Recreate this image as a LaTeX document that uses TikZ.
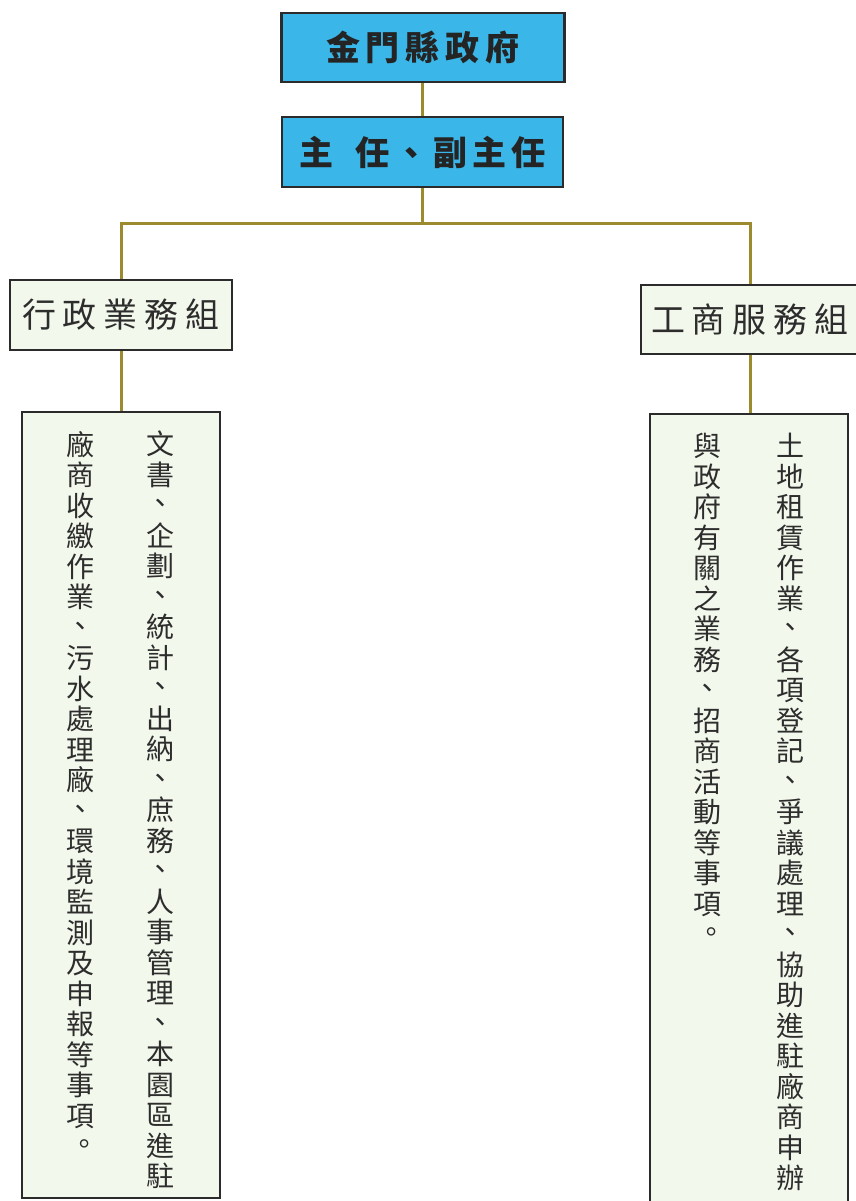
\documentclass[tikz,border=0pt]{standalone}
\usepackage{fontspec}
\newfontfamily\cjk{Noto Sans CJK TC}
\definecolor{topfill}{RGB}{58,182,232}
\definecolor{grpfill}{RGB}{243,248,236}
\definecolor{wire}{RGB}{156,139,46}
\definecolor{edge}{RGB}{43,43,43}
\definecolor{ink}{RGB}{45,45,45}
\newcommand{\vcomma}{\raisebox{2pt}{、}}
\newcommand{\vstop}{\raisebox{2pt}{\hspace*{8pt}。}}
\begin{document}
\begin{tikzpicture}[x=1pt,y=1pt,
  topbox/.style={draw=edge,line width=2.8pt,fill=topfill,inner sep=0pt,
    font=\cjk\bfseries\fontsize{34}{34}\selectfont,text=ink!80!black},
  grpbox/.style={draw=edge,line width=2.8pt,fill=grpfill,inner sep=0pt,
    font=\cjk\fontsize{34}{34}\selectfont,text=ink},
  textbox/.style={draw=edge,line width=2.8pt,fill=grpfill,inner sep=0pt},
  coltext/.style={align=center,inner sep=0pt,anchor=north,
    font=\cjk\fontsize{28}{30.5}\selectfont,text=ink},
  link/.style={draw=wire,line width=3pt}]
\useasboundingbox (0,0) rectangle (855,-1201);
\fill[white] (0,0) rectangle (855,-1201);

% boxes
\node[topbox,minimum width=283pt,minimum height=69pt] (gov) at (423,-47.5)
  {金\hspace{6pt}門\hspace{6pt}縣\hspace{6pt}政\hspace{6pt}府};
\node[topbox,minimum width=281pt,minimum height=70pt] (dir) at (422.5,-152)
  {主\hspace{22pt}任\hspace{5pt}、\hspace{5pt}副\hspace{5pt}主\hspace{5pt}任};
\coordinate (bus) at (422,-223);
\node[grpbox,minimum width=222pt,minimum height=70pt] (adm) at (121,-315)
  {行\hspace{7pt}政\hspace{7pt}業\hspace{7pt}務\hspace{7pt}組};
\node[grpbox,minimum width=218pt,minimum height=69pt] (biz) at (750,-319.5)
  {工\hspace{7pt}商\hspace{7pt}服\hspace{7pt}務\hspace{7pt}組};
\node[textbox,minimum width=198pt,minimum height=786pt] (admtxt) at (121,-805) {};
\node[textbox,minimum width=198pt,minimum height=800pt] (biztxt) at (749,-814) {};

% connectors
\draw[link] (gov.south -| bus) -- (dir.north -| bus);
\draw[link] (dir.south -| bus) -- (bus);
\draw[link] (bus) -| (adm.north);
\draw[link] (bus) -| (biz.north);
\draw[link] (adm.south) -- (admtxt.north -| adm.south);
\draw[link] (biz.south) -- (biztxt.north -| biz.south);

% vertical texts
\node[coltext] (admA) at (160,-431) {文\\書\\\vcomma\\企\\劃\\\vcomma\\統\\計\\\vcomma\\出\\納\\\vcomma\\庶\\務\\\vcomma\\人\\事\\管\\理\\\vcomma\\本\\園\\區\\進\\駐};
\node[coltext] (admB) at (80,-431) {廠\\商\\收\\繳\\作\\業\\\vcomma\\污\\水\\處\\理\\廠\\\vcomma\\環\\境\\監\\測\\及\\申\\報\\等\\事\\項\\\vstop};
\node[coltext] (bizA) at (790,-433) {土\\地\\租\\賃\\作\\業\\\vcomma\\各\\項\\登\\記\\\vcomma\\爭\\議\\處\\理\\\vcomma\\協\\助\\進\\駐\\廠\\商\\申\\辦};
\node[coltext] (bizB) at (707,-433) {與\\政\\府\\有\\關\\之\\業\\務\\\vcomma\\招\\商\\活\\動\\等\\事\\項\\\vstop};
\end{tikzpicture}
\end{document}
